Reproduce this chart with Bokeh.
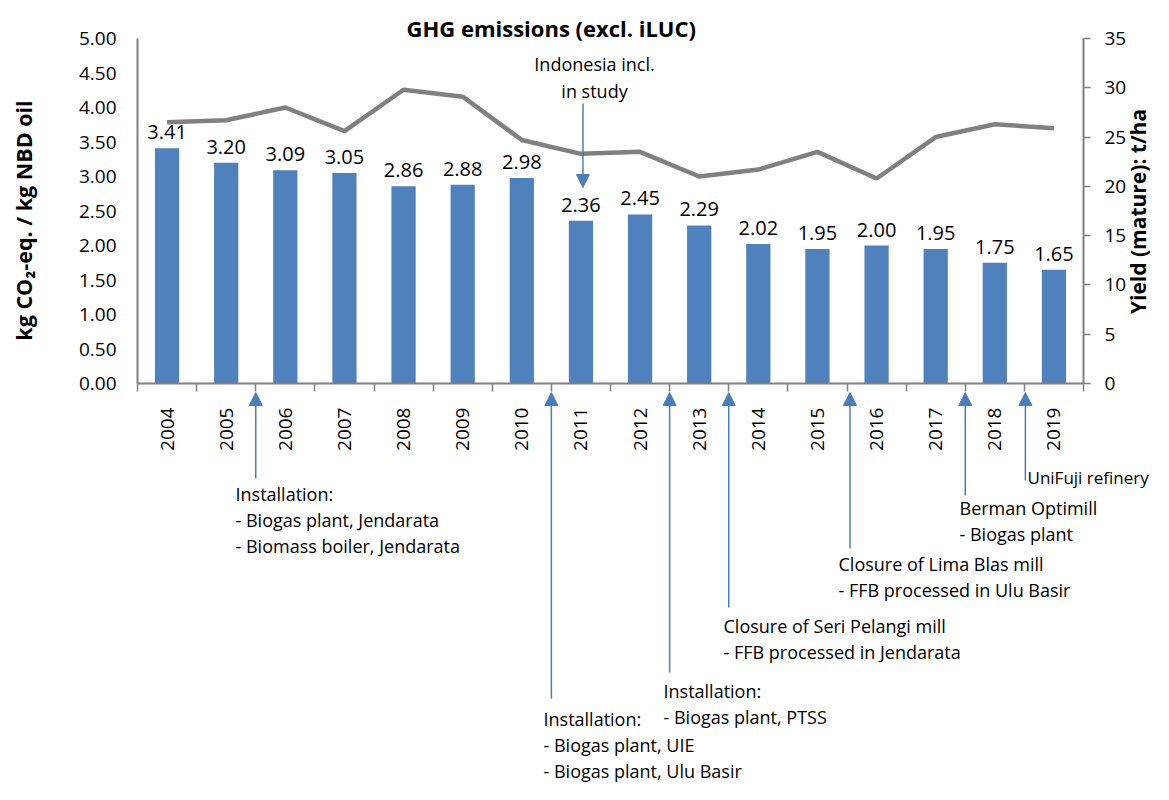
import numpy as np
from bokeh.plotting import figure
from bokeh.models import (Range1d, LinearAxis, FixedTicker, NumeralTickFormatter,
                          Arrow, NormalHead, Label)
from bokeh.embed import file_html
from bokeh.resources import INLINE
from bokeh.core.properties import value

# ---------------- data ----------------
years = ["2004", "2005", "2006", "2007", "2008", "2009", "2010", "2011",
         "2012", "2013", "2014", "2015", "2016", "2017", "2018", "2019"]
ghg = [3.41, 3.20, 3.09, 3.05, 2.86, 2.88, 2.98, 2.36,
       2.45, 2.29, 2.02, 1.95, 2.00, 1.95, 1.75, 1.65]
yield_tha = [26.5, 26.7, 28.0, 25.6, 29.8, 29.1, 24.7, 23.3,
             23.5, 21.0, 21.7, 23.5, 20.8, 25.0, 26.3, 25.9]
ghg_labels = [f"{v:.2f}" for v in ghg]
left_ticks = [0.0, 0.5, 1.0, 1.5, 2.0, 2.5, 3.0, 3.5, 4.0, 4.5, 5.0]
right_ticks = [0, 5, 10, 15, 20, 25, 30, 35]

title_text = "GHG emissions (excl. iLUC)"
left_label = "kg CO₂-eq. / kg NBD oil"
right_label = "Yield (mature): t/ha"

# events: first year after the change (arrow sits on the boundary before it)
event_years = ["2006", "2011", "2013", "2014", "2016", "2018", "2019"]
event_texts = [
    ["Installation:", "- Biogas plant, Jendarata", "- Biomass boiler, Jendarata"],
    ["Installation:", "- Biogas plant, UIE", "- Biogas plant, Ulu Basir"],
    ["Installation:", "- Biogas plant, PTSS"],
    ["Closure of Seri Pelangi mill", "- FFB processed in Jendarata"],
    ["Closure of Lima Blas mill", "- FFB processed in Ulu Basir"],
    ["Berman Optimill", "- Biogas plant"],
    ["UniFuji refinery"],
]
indo_year = "2011"
indo_text = ["Indonesia incl.", "in study"]

# ---------------- layout (reference pixels -> data units) ----------------
NX = len(years)
YMAX = 5.0
YMAX_R = 35.0
REF_X0, REF_PX_PER_CAT = 137.0, 59.125
REF_Y0, REF_PX_PER_UNIT = 383.0, 69.0
FIG_W, FIG_H = 1153, 784


def X(px):
    return (px - REF_X0) / REF_PX_PER_CAT


def Y(py):
    return (REF_Y0 - py) / REF_PX_PER_UNIT


# arrow x-shift (px), arrow tail y, text left x, first-line y, font size (reference px)
event_layout = [
    (0, 478, 235, 493, "18px"),
    (0, 698, 543, 718, "18px"),
    (0, 672, 663, 690, "18px"),
    (0, 607, 723, 625, "18px"),
    (3, 548, 838, 563, "18px"),
    (0, 495, 959, 507, "18px"),
    (1, 480, 1027, 477, "17px"),
]
LINE_PX = 26
TIP_Y = 392

BLUE = "#4F81BD"
ARROW_BLUE = "#4A7EBB"
GREY = "#808080"
FONT = "Open Sans"

p = figure(width=FIG_W, height=FIG_H, output_backend="svg", toolbar_location=None,
           x_range=Range1d(X(0), X(FIG_W)), y_range=Range1d(Y(FIG_H), Y(0)),
           x_axis_type=None, y_axis_type=None, min_border=0,
           min_border_left=0, min_border_right=0,
           min_border_top=0, min_border_bottom=0)
p.outline_line_color = None
p.background_fill_color = "white"
p.border_fill_color = "white"

p.extra_y_ranges = {"yield": Range1d(Y(FIG_H) * YMAX_R / YMAX, Y(0) * YMAX_R / YMAX)}

xs = np.arange(NX) + 0.5

# bars
p.vbar(x=xs, top=ghg, width=0.41, color=BLUE, line_color=None)
# value labels
p.text(x=xs, y=ghg, text=ghg_labels, text_align="center", text_baseline="bottom",
       y_offset=-9, text_font=value(FONT), text_font_size="20px", text_color="black")
# yield line
p.line(x=xs, y=yield_tha, y_range_name="yield", line_color=GREY, line_width=4.5)

# axes
xaxis = LinearAxis(ticker=FixedTicker(ticks=list(xs), minor_ticks=list(range(NX + 1))),
                   major_label_overrides={float(x): y for x, y in zip(xs, years)},
                   fixed_location=0, bounds=(0, NX))
xaxis.major_label_orientation = np.pi / 2
xaxis.major_tick_out = 0
xaxis.major_tick_in = 0
xaxis.minor_tick_out = 8
xaxis.minor_tick_in = 0
xaxis.minor_tick_line_color = GREY
xaxis.minor_tick_line_width = 1.5
xaxis.axis_line_color = GREY
xaxis.axis_line_width = 2
xaxis.major_label_standoff = 16
xaxis.major_label_text_font = FONT
xaxis.major_label_text_font_size = "19px"
xaxis.major_label_text_color = "black"
p.add_layout(xaxis, "below")

yaxis = LinearAxis(ticker=FixedTicker(ticks=left_ticks),
                   formatter=NumeralTickFormatter(format="0.00"),
                   fixed_location=0, bounds=(0, YMAX))
yaxis.major_tick_out = 0
yaxis.major_tick_in = 0
yaxis.minor_tick_out = 0
yaxis.minor_tick_in = 0
yaxis.axis_line_color = GREY
yaxis.axis_line_width = 2
yaxis.major_label_standoff = 21
yaxis.major_label_text_font = FONT
yaxis.major_label_text_font_size = "19px"
yaxis.major_label_text_color = "black"
p.add_layout(yaxis, "left")

raxis = LinearAxis(y_range_name="yield", ticker=FixedTicker(ticks=right_ticks),
                   fixed_location=NX, bounds=(0, YMAX_R))
raxis.major_tick_out = 7
raxis.major_tick_in = 0
raxis.minor_tick_out = 0
raxis.minor_tick_in = 0
raxis.major_tick_line_color = GREY
raxis.major_tick_line_width = 1.5
raxis.axis_line_color = GREY
raxis.axis_line_width = 2
raxis.major_label_standoff = 14
raxis.major_label_text_font = FONT
raxis.major_label_text_font_size = "19px"
raxis.major_label_text_color = "black"
p.add_layout(raxis, "right")

# chart title
p.add_layout(Label(x=X(406), y=Y(27), text=title_text, text_align="left",
                   text_baseline="middle", text_font=FONT, text_font_size="22px",
                   text_font_style="bold", text_color="black"))

# axis titles (rotated, centred on the bounded axes)
p.add_layout(Label(x=X(23), y=Y(220), text=left_label, angle=np.pi / 2,
                   text_align="center", text_baseline="middle", text_font=FONT,
                   text_font_size="21.5px", text_font_style="bold", text_color="black"))
p.add_layout(Label(x=X(1137), y=Y(211), text=right_label, angle=np.pi / 2,
                   text_align="center", text_baseline="middle", text_font=FONT,
                   text_font_size="21px", text_font_style="bold", text_color="black"))

# event arrows + texts below the axis
for yr, lines, (dxa, tail, tx, first, fs) in zip(event_years, event_texts, event_layout):
    bx = years.index(yr) + dxa / REF_PX_PER_CAT
    p.add_layout(Arrow(end=NormalHead(size=13, fill_color=ARROW_BLUE, line_color=ARROW_BLUE),
                       x_start=bx, y_start=Y(tail), x_end=bx, y_end=Y(TIP_Y),
                       line_color=ARROW_BLUE, line_width=1.5))
    for k, t in enumerate(lines):
        p.add_layout(Label(x=X(tx), y=Y(first + k * LINE_PX), text=t,
                           text_align="left", text_baseline="middle",
                           text_font=FONT, text_font_size=fs, text_color="black"))

# Indonesia annotation (above the 2011 bar)
ix = years.index(indo_year) + 0.5 + 2 / REF_PX_PER_CAT
p.add_layout(Arrow(end=NormalHead(size=13, fill_color=ARROW_BLUE, line_color=ARROW_BLUE),
                   x_start=ix, y_start=Y(103), x_end=ix, y_end=Y(187),
                   line_color=ARROW_BLUE, line_width=1.5))
for k, t in enumerate(indo_text):
    p.add_layout(Label(x=X(594), y=Y(63 + k * 27), text=t,
                       text_align="center", text_baseline="middle",
                       text_font=FONT, text_font_size="18px", text_color="black"))

open("out.html", "w").write(file_html(p, INLINE))
